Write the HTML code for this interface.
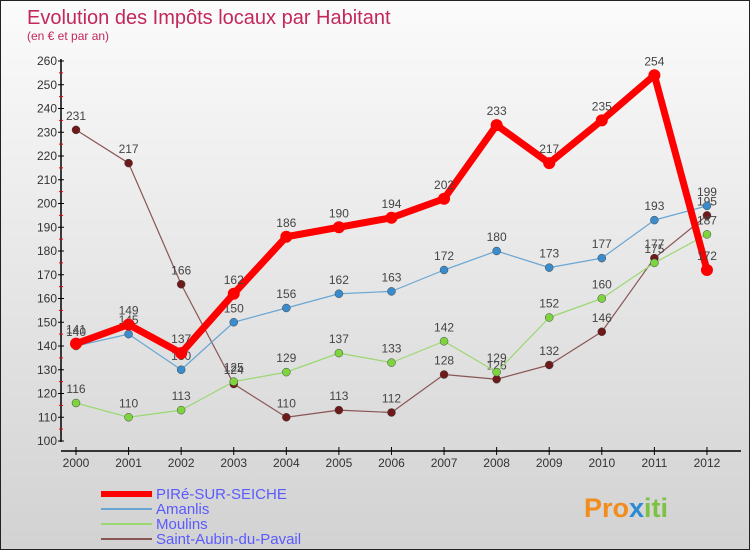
<!DOCTYPE html>
<html><head><meta charset="utf-8"><style>
body{margin:0;}
#c{width:748px;height:548px;border:1px solid #222;background:linear-gradient(#fbfbfb,#d2d2d2);position:relative;font-family:"Liberation Sans",sans-serif;overflow:hidden}
</style></head><body>
<div id="c">
<svg id="s" width="748" height="548">
<text x="26" y="23" font-size="20" fill="#c2285a">Evolution des Impôts locaux par Habitant</text>
<text x="26" y="39" font-size="12" fill="#c2285a">(en € et par an)</text>
<text x="583" y="516" font-size="27" font-weight="bold" fill="#f28c1e">Pro<tspan fill="#2a8ad4">x</tspan><tspan fill="#7dc242">iti</tspan></text>
</svg>
</div>
<script>
const years=["2000","2001","2002","2003","2004","2005","2006","2007","2008","2009","2010","2011","2012"];
const yTicks=[100,110,120,130,140,150,160,170,180,190,200,210,220,230,240,250,260];
const pire=[141,149,137,162,186,190,194,202,233,217,235,254,172];
const amanlis=[140,145,130,150,156,162,163,172,180,173,177,193,199];
const moulins=[116,110,113,125,129,137,133,142,129,152,160,175,187];
const saintAubin=[231,217,166,124,110,113,112,128,126,132,146,177,195];
const seriesNames=["PIRé-SUR-SEICHE","Amanlis","Moulins","Saint-Aubin-du-Pavail"];
const svg=document.getElementById('s');const NS="http://www.w3.org/2000/svg";
const X=i=>75+i*52.58;const Y=v=>440-(v-100)*2.375;
function mk(t,a,p){const e=document.createElementNS(NS,t);for(const k in a)e.setAttribute(k,a[k]);(p||svg).appendChild(e);return e;}
let ax=mk('line',{x1:60,y1:58,x2:60,y2:441,stroke:'#000','stroke-width':1.5});


yTicks.forEach(v=>{mk('line',{x1:57,x2:63,y1:Y(v),y2:Y(v),stroke:'#000'});
 if(v<260)mk('line',{x1:58,x2:62,y1:Y(v+5),y2:Y(v+5),stroke:'#e00'});
 const t=mk('text',{x:56,y:Y(v)+4,'font-size':12,'text-anchor':'end',fill:'#333'});t.textContent=v;
 
 });
let xa=mk('line',{x1:60,y1:450,x2:740,y2:450,stroke:'#000','stroke-width':1.5});


years.forEach((y,i)=>{mk('line',{x1:X(i),x2:X(i),y1:446,y2:454,stroke:'#000'});
 const t=mk('text',{x:X(i),y:466,'font-size':12,'text-anchor':'middle',fill:'#333'});t.textContent=y;
 
 });
const defs=[[saintAubin,'#6e1a1a','#8a5555',1.2,4,'saint-aubin'],[moulins,'#7ed43e','#9ad870',1.2,4,'moulins'],[amanlis,'#3a8ccc','#6aa6d4',1.2,4,'amanlis'],[pire,'#f00','#f00',7,6,'pire']];
defs.forEach(([d,c,lc,w,r,n])=>{
 const p=mk('polyline',{points:d.map((v,i)=>X(i)+','+Y(v)).join(' '),fill:'none',stroke:lc,'stroke-width':w,'stroke-linejoin':'round'});
 
 
 d.forEach((v,i)=>{const q=mk('circle',{cx:X(i),cy:Y(v),r:r,fill:c,stroke:n=='pire'?'none':'#444','stroke-width':0.5});
  
  
  const t=mk('text',{x:X(i),y:Y(v)-10,'font-size':12,'text-anchor':'middle',fill:'#444'});t.textContent=v;
  
  });
});
const lg=[['#f00',6],['#6aa6d4',2],['#9ad870',2],['#8a5555',2]];
seriesNames.forEach((s,i)=>{const y=493+i*15;
 const l=mk('line',{x1:100,x2:151,y1:y,y2:y,stroke:lg[i][0],'stroke-width':lg[i][1]});
 
 
 const t=mk('text',{x:155,y:y+5,'font-size':15,fill:'#5a5aff'});t.textContent=s;
 
 });
</script>
</body></html>
